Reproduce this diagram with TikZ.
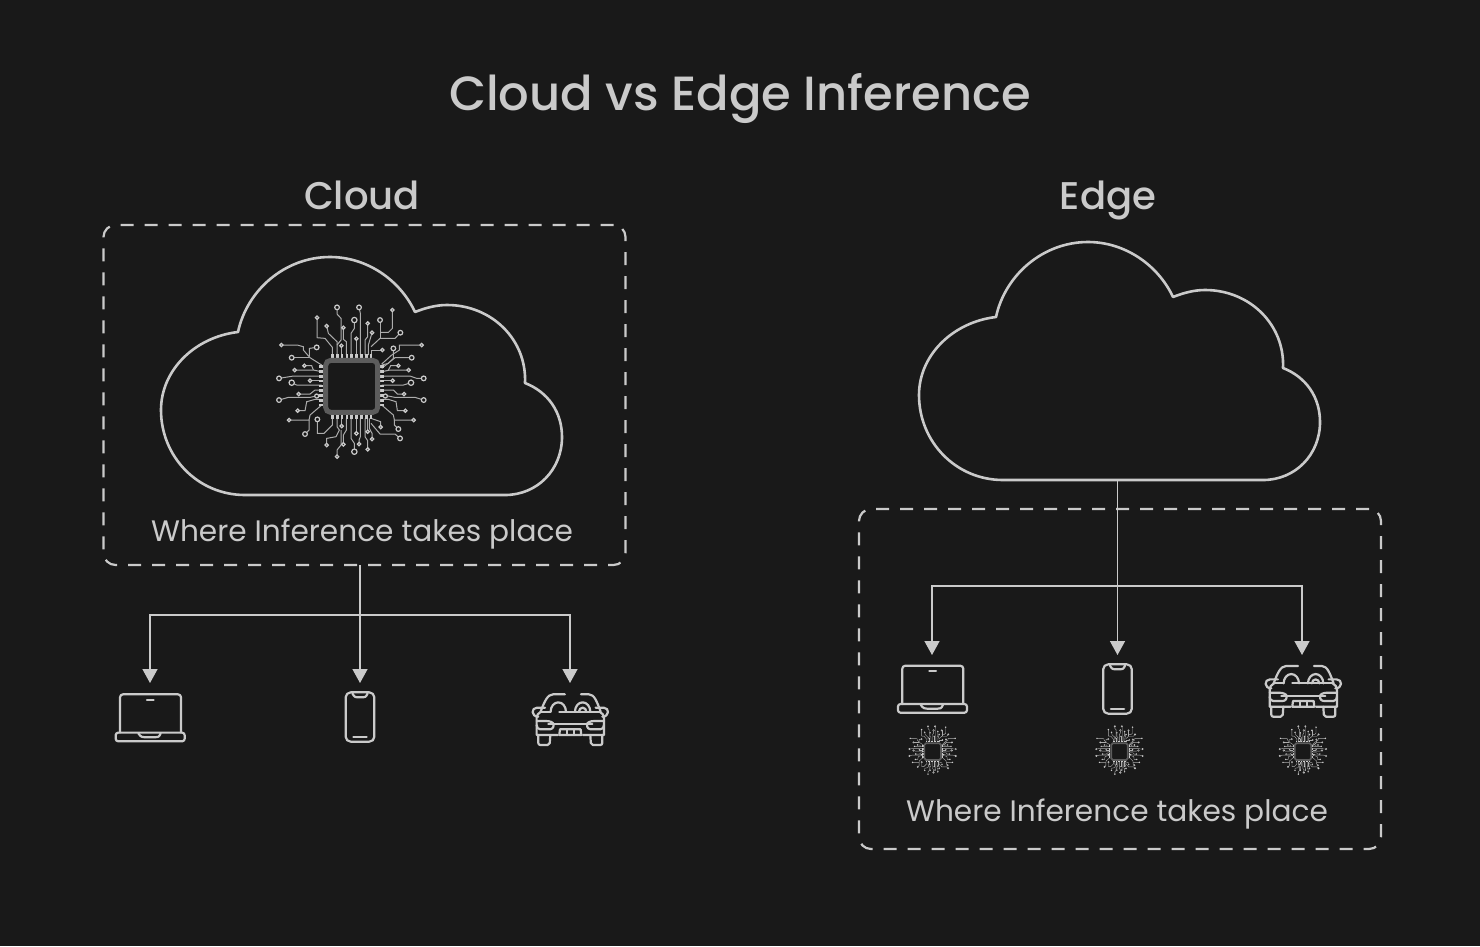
\documentclass[tikz,border=0pt]{standalone}
\usepackage{fontspec}
\setmainfont{Poppins Medium}
\newfontfamily\capfont{Poppins}
\usetikzlibrary{arrows.meta}
\definecolor{bgdark}{HTML}{191919}
\definecolor{inklight}{HTML}{CACACA}
\definecolor{chipgray}{HTML}{5C5C5C}
\tikzset{
  dashbox/.style={draw=inklight, line width=2.2pt, rounded corners=12pt, dash pattern=on 13pt off 11pt, minimum width=522pt, minimum height=340pt, inner sep=0pt},
  title/.style={text=inklight, anchor=base, font=\fontsize{48}{50}\selectfont},
  heading/.style={text=inklight, anchor=base, font=\fontsize{38.6}{40}\selectfont},
  caption/.style={text=inklight, anchor=base, font=\capfont\fontsize{29.6}{31}\selectfont},
  outline/.style={draw=inklight, line width=2.6pt, line join=round},
  arrowline/.style={draw=inklight, line width=1.4pt, -{Triangle[width=15pt,length=14pt]}},
  icon/.style={draw=inklight, line width=2.2pt, line cap=round, line join=round},
  trace/.style={draw=inklight!85!black, line width=1pt},
  pad/.style={draw=inklight, fill=bgdark, line width=1.2pt},
  chipbody/.style={draw=chipgray, fill=bgdark, line width=5pt, rounded corners=5pt},
  tinychip/.style={scale=.32, trace/.append style={line width=.4pt}, pad/.append style={line width=.4pt}, chipbody/.append style={line width=1.7pt, rounded corners=1.6pt}},
  cloud/.pic={
    \draw[outline] (245,495) -- (505,495) .. controls (537,495) and (562,470) .. (562,437)
      .. controls (562,412) and (548,392) .. (525,383)
      .. controls (527,340) and (492,305) .. (447,305)
      .. controls (436,305) and (425,308) .. (415,312)
      .. controls (400,280) and (367,257) .. (330,257)
      .. controls (285,257) and (247,290) .. (238,332)
      .. controls (195,337) and (161,370) .. (161,410)
      .. controls (161,457) and (198,495) .. (245,495) -- cycle;
  },
  chip/.pic={
    \begin{scope}[scale=1/3, shift={(-275,-290)}]
      %% top
      \draw[trace] (217,195) -- (217,172) -- (195,145) -- (171,143) -- (171,83);
      \draw[trace] (231,195) -- (231,155) -- (205,130) -- (200,108);
      \draw[trace] (231,165) -- (243,150) -- (243,85) -- (231,72) -- (231,52);
      \draw[trace] (245,195) -- (245,167);
      \draw[trace] (259,195) -- (259,155) -- (250,148) -- (250,113);
      \draw[trace] (273,195) -- (273,130) -- (283,115) -- (283,90);
      \draw[trace] (289,195) -- (289,146);
      \draw[trace] (301,195) -- (301,70) -- (297,52);
      \draw[trace] (315,195) -- (315,150) -- (323,140) -- (323,100);
      \draw[trace] (325,195) -- (325,165) -- (336,128);
      \draw[trace] (333,195) -- (333,180) -- (367,180);
      \draw[trace] (333,170) -- (360,145) -- (405,145) -- (421,128);
      \draw[trace] (360,145) -- (360,90);
      \draw[trace] (360,127) -- (385,127) -- (397,115) -- (397,60);
      %% left
      \draw[trace] (185,225) -- (150,203) -- (130,180) -- (130,170) -- (112,165) -- (64,165);
      \draw[trace] (148,200) -- (148,175) -- (170,172);
      \draw[trace] (95,203) -- (148,203);
      \draw[trace] (104,240) -- (160,240) -- (185,245);
      \draw[trace] (133,227) -- (155,227) -- (160,240);
      \draw[trace] (57,265) -- (100,258) -- (185,258);
      \draw[trace] (150,272) -- (185,272);
      \draw[trace] (95,278) -- (110,285) -- (185,285);
      \draw[trace] (116,312) -- (150,312) -- (165,300) -- (185,300);
      \draw[trace] (57,330) -- (85,322) -- (150,322) -- (185,314);
      \draw[trace] (170,318) -- (185,318);
      \draw[trace] (113,362) -- (135,362) -- (140,335) -- (165,328) -- (185,328);
      \draw[trace] (87,390) -- (147,390) -- (150,375) -- (185,345);
      \draw[trace] (135,432) -- (147,420) -- (147,390);
      %% right
      \draw[trace] (365,225) -- (385,220) -- (400,205) -- (400,175);
      \draw[trace] (455,203) -- (405,203) -- (365,235);
      \draw[trace] (365,222) -- (395,195) -- (418,180) -- (418,165) -- (485,165);
      \draw[trace] (415,227) -- (392,227) -- (385,240);
      \draw[trace] (365,245) -- (390,240) -- (446,240);
      \draw[trace] (365,258) -- (450,258) -- (470,265) -- (491,265);
      \draw[trace] (365,272) -- (398,272);
      \draw[trace] (365,285) -- (430,285) -- (453,278);
      \draw[trace] (365,300) -- (400,300) -- (412,312) -- (432,312);
      \draw[trace] (365,314) -- (405,322) -- (465,322) -- (491,330);
      \draw[trace] (365,318) -- (376,318);
      \draw[trace] (365,328) -- (385,328) -- (408,335) -- (412,362) -- (436,362);
      \draw[trace] (365,345) -- (400,375) -- (403,390) -- (461,390);
      \draw[trace] (403,390) -- (403,405) -- (415,417);
      %% bottom
      \draw[trace] (217,385) -- (217,405) -- (192,430) -- (172,430) -- (172,388);
      \draw[trace] (231,385) -- (231,410) -- (238,420) -- (228,440) -- (200,445) -- (200,465);
      \draw[trace] (245,385) -- (245,408);
      \draw[trace] (231,500) -- (231,480) -- (243,465) -- (243,420);
      \draw[trace] (259,385) -- (259,420) -- (250,435) -- (250,463);
      \draw[trace] (273,385) -- (273,445) -- (283,460) -- (283,485);
      \draw[trace] (289,385) -- (289,430);
      \draw[trace] (301,385) -- (301,440) -- (297,450) -- (297,462);
      \draw[trace] (315,385) -- (315,440) -- (323,452) -- (323,478);
      \draw[trace] (323,385) -- (323,425);
      \draw[trace] (328,385) -- (328,415) -- (336,430) -- (336,447);
      \draw[trace] (333,385) -- (362,395) -- (362,411);
      \draw[trace] (333,400) -- (360,432) -- (405,432) -- (420,445);
      %% end pads
      \foreach \x/\y/\r in {171/83/5, 200/108/5, 231/52/7, 244/167/5, 250/113/5, 283/90/8, 289/146/5, 297/52/7, 323/100/5, 336/128/5, 367/180/5, 421/128/7, 360/90/7, 397/60/5,
        64/165/5, 170/172/7, 95/203/7, 104/240/5, 133/227/5, 57/265/7, 150/272/5, 95/278/8, 116/312/5, 57/330/7, 170/318/6, 113/362/5, 87/390/5, 135/432/7,
        400/175/7, 455/203/7, 485/165/5, 415/227/5, 446/240/5, 491/265/7, 398/272/5, 453/278/8, 432/312/5, 491/330/7, 376/318/6, 436/362/5, 461/390/5, 415/417/7,
        172/388/7, 200/465/5, 245/408/5, 231/500/5, 250/463/5, 283/485/8, 289/430/5, 297/462/5, 323/478/5, 323/425/5, 336/447/5, 362/411/5, 420/445/7}
        \filldraw[pad] (\x,\y) circle[radius=\r];
      %% pins
      \foreach \i in {0,...,8} {
        \fill[inklight] ({213+14.5*\i},191) rectangle +(8,12);
        \fill[inklight] ({213+14.5*\i},375) rectangle +(8,12);
        \fill[inklight] (178,{226+14.4*\i}) rectangle +(12,8);
        \fill[inklight] (360,{226+14.4*\i}) rectangle +(12,8);
      }
      \draw[chipbody] (197,211) rectangle (353,367);
    \end{scope}
  },
  laptop/.pic={
    \begin{scope}[scale=1/3, shift={(-150,-175)}]
      \draw[icon, rounded corners=3pt] (60,218) -- (60,103) -- (243,103) -- (243,218);
      \draw[icon, rounded corners=2.5pt] (47,218) -- (254,218) -- (254,244) -- (47,244) -- cycle;
      \draw[icon] (115,220) .. controls (122,232) and (130,232) .. (135,232) -- (165,232) .. controls (172,232) and (178,232) .. (182,220);
      \draw[icon] (141,119) -- (161,119);
    \end{scope}
  },
  phone/.pic={
    \begin{scope}[scale=1/3, shift={(-780,-171)}]
      \draw[icon, rounded corners=5pt] (737,97) rectangle (823,245);
      \draw[icon] (757,100) .. controls (763,112) and (768,112) .. (772,112) -- (788,112) .. controls (794,112) and (798,112) .. (803,100);
      \draw[icon] (760,230) -- (800,230);
    \end{scope}
  },
  car/.pic={
    \begin{scope}[scale=1/3]
      \draw[icon] (-16,-77) -- (-52,-77) .. controls (-68,-77) and (-78,-55) .. (-89,-25);
      \draw[icon] (32,-77) -- (56,-77) .. controls (72,-77) and (80,-55) .. (91,-25);
      \draw[icon] (-59,-25) arc[start angle=180, end angle=0, x radius=23, y radius=-28];
      \draw[icon] (14,-25) arc[start angle=180, end angle=0, x radius=23, y radius=-28];
      \draw[icon] (26,-25) arc[start angle=180, end angle=0, x radius=11, y radius=-12];
      \draw[icon] (-59,-25) -- (-89,-25);
      \draw[icon] (-33,-25) -- (87,-25);
      \draw[icon] (-66,13) -- (66,13);
      \foreach \side in {1,-1} {
        \begin{scope}[xscale=\side]
          \draw[icon] (-76,-37) -- (-100,-37) .. controls (-118,-37) and (-118,-10) .. (-96,-10);
          \draw[icon] (-88,-25) .. controls (-96,-20) and (-101,-15) .. (-101,-8) -- (-101,45) -- (-38,45);
          \draw[icon] (-101,3) -- (-72,3) .. controls (-60,3) and (-50,8) .. (-50,13) .. controls (-50,25) and (-55,28) .. (-66,28) -- (-90,28) .. controls (-97,28) and (-101,22) .. (-101,15);
          \draw[icon, rounded corners=2pt] (-96,45) -- (-96,75) -- (-62,75) -- (-60,45);
        \end{scope}
      }
      \draw[icon] (-31,28) -- (31,28) -- (33,45) -- (-33,45) -- cycle;
      \draw[icon] (-10,28) -- (-10,45) (10,28) -- (10,45);
    \end{scope}
  }
}

\begin{document}
\begin{tikzpicture}[x=1pt, y=-1pt]
  \fill[bgdark] (0,0) rectangle (1480,946);
  \useasboundingbox (0,0) rectangle (1480,946);
%% headings
  \node[title] (maintitle) at (740,110) {Cloud vs Edge Inference};
  \node[heading] (cloudtitle) at (362,209) {Cloud};
  \node[heading] (edgetitle) at (1108,209) {Edge};
%% cloud side
  \node[dashbox] (cloudbox) at (364.5,395) {};
  \pic at (0,0) {cloud};
  \pic at (351.7,386.7) {chip};
  \node[caption] (cloudtext) at (362,541) {Where Inference takes place};
  \pic at (150,718.3) {laptop};
  \pic at (360,717) {phone};
  \pic at (570.3,720) {car};
  \coordinate (cloudroot) at (360,565);
  \coordinate (cloudfork) at (360,615);
  \coordinate (laptoptipa) at (150,683);
  \coordinate (phonetipa) at (360,683);
  \coordinate (cartipa) at (570,683);
  \draw[arrowline] (cloudroot) -- (phonetipa);
  \draw[arrowline] (cloudfork) -| (laptoptipa);
  \draw[arrowline] (cloudfork) -| (cartipa);
%% edge side
  \node[dashbox] (edgebox) at (1120,679) {};
  \pic at (758,-15) {cloud};
  \node[caption] (edgetext) at (1117,821) {Where Inference takes place};
  \pic at (932.3,689.7) {laptop};
  \pic at (1117.5,689) {phone};
  \pic at (1303.3,691.7) {car};
  \pic[tinychip] at (932.7,751.7) {chip};
  \pic[tinychip] at (1119.5,751.7) {chip};
  \pic[tinychip] at (1303,751.7) {chip};
  \coordinate (edgeroot) at (1117.5,480);
  \coordinate (edgefork) at (1117.5,586);
  \coordinate (laptoptipb) at (932,655);
  \coordinate (phonetipb) at (1117.5,655);
  \coordinate (cartipb) at (1302,655);
  \draw[arrowline] (edgeroot) -- (phonetipb);
  \draw[arrowline] (edgefork) -| (laptoptipb);
  \draw[arrowline] (edgefork) -| (cartipb);
\end{tikzpicture}
\end{document}
